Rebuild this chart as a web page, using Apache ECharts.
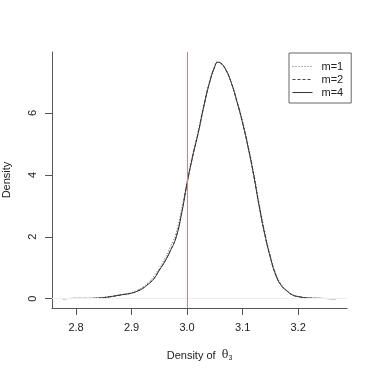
<!DOCTYPE html>
<html>
<head>
<meta charset="utf-8">
<script src="https://cdn.jsdelivr.net/npm/echarts@6/dist/echarts.min.js"></script>
<style>
html, body { margin: 0; padding: 0; background: #fff; }
#chart { width: 374px; height: 374px; }
</style>
</head>
<body>
<div id="chart"></div>
<script>
"use strict";

/*****Data start*****/
var xs = [2.777, 2.80, 2.82, 2.84, 2.86, 2.88, 2.90, 2.91, 2.92, 2.93, 2.94, 2.95, 2.96, 2.97, 2.98, 2.99,
	3.00, 3.01, 3.02, 3.03, 3.04, 3.05, 3.055, 3.06, 3.07, 3.08, 3.09, 3.10, 3.11, 3.12, 3.13, 3.14,
	3.15, 3.16, 3.17, 3.18, 3.19, 3.20, 3.22, 3.24, 3.267];
var densM1 = [0.00, 0.01, 0.01, 0.03, 0.07, 0.13, 0.20, 0.27, 0.37, 0.52, 0.72, 1.00, 1.30, 1.68, 2.12, 2.88,
	3.80, 4.66, 5.42, 6.26, 7.00, 7.54, 7.66, 7.62, 7.40, 6.98, 6.40, 5.74, 4.96, 4.08, 3.08, 2.16,
	1.40, 0.80, 0.45, 0.26, 0.13, 0.07, 0.02, 0.01, 0.00];
var densM2 = [0.00, 0.01, 0.01, 0.02, 0.06, 0.12, 0.18, 0.25, 0.34, 0.48, 0.65, 0.93, 1.21, 1.57, 1.98, 2.76,
	3.74, 4.60, 5.36, 6.21, 6.96, 7.51, 7.64, 7.61, 7.38, 6.95, 6.36, 5.68, 4.89, 3.99, 2.98, 2.08,
	1.34, 0.76, 0.42, 0.25, 0.12, 0.07, 0.02, 0.01, 0.00];
var densM4 = [0.00, 0.01, 0.01, 0.02, 0.06, 0.12, 0.18, 0.24, 0.33, 0.47, 0.64, 0.92, 1.20, 1.55, 1.97, 2.74,
	3.73, 4.59, 5.35, 6.20, 6.95, 7.50, 7.64, 7.62, 7.39, 6.95, 6.35, 5.67, 4.88, 3.98, 2.97, 2.07,
	1.33, 0.75, 0.42, 0.25, 0.12, 0.07, 0.02, 0.01, 0.00];
var xTicks = [2.8, 2.9, 3.0, 3.1, 3.2];
var yTicks = [0, 2, 4, 6];
var seriesNames = ['m=1', 'm=2', 'm=4'];
/*****Data end*****/

var pairUp = function(ys) {
	var out = [];
	for (var i = 0; i < xs.length; i++) {
		out.push([xs[i], ys[i]]);
	}
	return out;
};

var axisFont = "'Liberation Sans', Arial, sans-serif";
var eChart_1 = echarts.init(document.getElementById('chart'));
var option = {
	animation: false,
	grid: {
		left: 52,
		right: 27,
		top: 52,
		bottom: 66,
		containLabel: false,
		outerBoundsMode: 'none'
	},
	legend: {
		orient: 'vertical',
		left: 289,
		top: 53,
		padding: [7, 8, 4, 3],
		itemGap: 0,
		itemWidth: 20,
		itemHeight: 13,
		borderColor: '#666',
		borderWidth: 1,
		borderRadius: 0,
		data: seriesNames,
		itemStyle: { opacity: 0 },
		lineStyle: { width: 1 },
		textStyle: {
			color: '#222',
			fontFamily: axisFont,
			fontSize: 11,
			lineHeight: 13,
			padding: [0, 0, 0, 4]
		}
	},
	xAxis: {
		type: 'value',
		min: 2.7567,
		max: 3.288,
		name: 'Density of  {t|θ}{s|3}',
		nameLocation: 'middle',
		nameGap: 41,
		nameTextStyle: {
			color: '#222',
			fontFamily: axisFont,
			fontSize: 11,
			rich: {
				t: { fontFamily: 'DejaVu Serif', fontSize: 11, color: '#222' },
				s: { fontFamily: axisFont, fontSize: 7, color: '#222', verticalAlign: 'bottom', padding: [6, 0, 0, 0] }
			}
		},
		axisLine: { show: true, onZero: false, lineStyle: { color: '#555', width: 1 } },
		axisTick: { show: true, inside: false, length: 7, customValues: xTicks, lineStyle: { color: '#555' } },
		axisLabel: {
			customValues: xTicks,
			margin: 14,
			color: '#222',
			fontFamily: axisFont,
			fontSize: 11,
			formatter: function(v) { return v.toFixed(1); }
		},
		splitLine: { show: false }
	},
	yAxis: {
		type: 'value',
		min: -0.30,
		max: 7.97,
		name: 'Density',
		nameLocation: 'middle',
		nameGap: 40,
		nameTextStyle: {
			color: '#222',
			fontFamily: axisFont,
			fontSize: 11
		},
		axisLine: { show: true, onZero: false, lineStyle: { color: '#555', width: 1 } },
		axisTick: { show: true, inside: false, length: 7, customValues: yTicks, lineStyle: { color: '#555' } },
		axisLabel: {
			customValues: yTicks,
			rotate: 90,
			margin: 14,
			color: '#222',
			fontFamily: axisFont,
			fontSize: 11
		},
		splitLine: { show: false }
	},
	series: [
		{
			name: seriesNames[0],
			type: 'line',
			data: pairUp(densM1),
			smooth: true,
			symbol: 'none',
			color: '#666',
			lineStyle: { color: '#666', width: 1, type: [1, 2] },
			markLine: {
				silent: true,
				symbol: 'none',
				label: { show: false },
				lineStyle: { color: '#eeeeee', width: 1, type: 'solid' },
				data: [ { yAxis: 0 } ]
			},
			z: 2
		},
		{
			name: seriesNames[1],
			type: 'line',
			data: pairUp(densM2),
			smooth: true,
			symbol: 'none',
			color: '#444',
			lineStyle: { color: '#444', width: 1, type: [3, 2] },
			markLine: {
				silent: true,
				symbol: 'none',
				label: { show: false },
				lineStyle: { color: '#e8797b', width: 1, type: 'solid', opacity: 1 },
				data: [ { xAxis: 3.0 } ]
			},
			z: 3
		},
		{
			name: seriesNames[2],
			type: 'line',
			data: pairUp(densM4),
			smooth: true,
			symbol: 'none',
			color: '#333',
			lineStyle: { color: '#333', width: 1, type: 'solid' },
			z: 4
		}
	]
};
eChart_1.setOption(option);
</script>
</body>
</html>
